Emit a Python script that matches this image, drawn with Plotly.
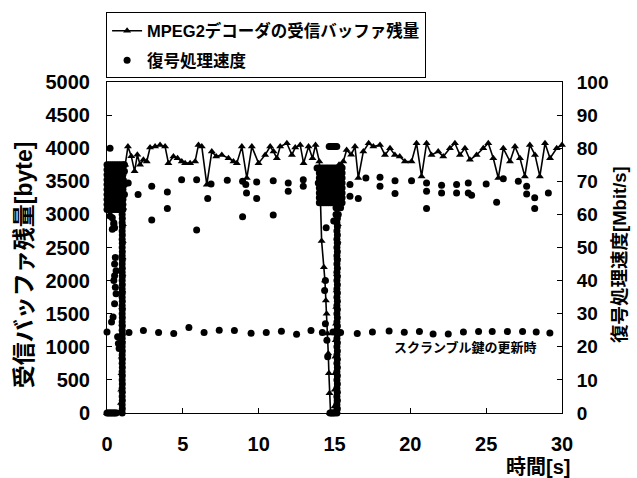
import plotly.graph_objects as go

# ---- Buffer remaining (left axis, byte) ----
buf_t = [0.0, 0.05, 0.1, 0.15, 0.2, 0.25, 0.3, 0.35, 0.4, 0.45, 0.5, 0.55, 0.6, 0.65, 0.7, 0.75, 0.8, 0.85, 0.9,
         0.92, 0.94, 0.96, 0.97, 0.98, 0.99, 1.0, 1.01, 1.02, 1.03, 1.04, 1.05, 1.06, 1.07, 1.08, 1.1,
         1.2, 1.38, 1.6, 1.82, 2.0, 2.18, 2.4, 2.62, 2.84, 3.17, 3.5, 3.83, 4.05, 4.38, 4.65, 4.93, 5.15, 5.48, 5.81,
         6.03, 6.25, 6.58, 6.91, 7.2, 7.57, 8.01, 8.34, 8.56, 8.89, 9.22, 9.55, 9.99, 10.43, 10.76, 10.98, 11.2,
         11.42, 11.86, 12.19, 12.41, 12.74, 12.96, 13.29, 13.55, 13.75, 14.0,
         14.15, 14.3, 14.37, 14.43, 14.48, 14.54, 14.59, 14.63, 14.67, 14.7,
         14.74, 14.78, 14.82, 14.86, 14.9, 14.94, 14.98,
         15.0, 15.02, 15.04, 15.06, 15.08, 15.1, 15.12, 15.14, 15.16, 15.18, 15.2, 15.22, 15.24, 15.26, 15.28, 15.3,
         15.45, 15.58, 15.8, 16.1, 16.35, 16.57, 16.9, 17.25, 17.56, 18.0, 18.33, 18.66, 18.98, 19.3, 19.64, 20.08,
         20.41, 20.74, 21.07, 21.4, 21.84, 22.17, 22.61, 22.94, 23.27, 23.6, 23.93, 24.37, 24.81, 25.14, 25.47,
         25.8, 26.13, 26.57, 26.9, 27.23, 27.55, 27.88, 28.22, 28.54, 28.88, 29.21, 29.65, 30.0]
buf_v = [0, 0, 0, 0, 0, 0, 0, 0, 0, 0, 0, 0, 0, 0, 0, 0, 0, 0, 0,
         150, 350, 600, 850, 1100, 1350, 1600, 1850, 2100, 2350, 2600, 2850, 3100, 3350, 3550, 3750,
         3750, 4024, 3880, 3650, 3900, 3749, 3824, 3799, 4009, 4024, 4049, 4024, 3774, 3874, 3849, 3799, 3774, 3774, 3799,
         4049, 4024, 3449, 3949, 3874, 3899, 3849, 3799, 3774, 4024, 3549, 4024, 3774, 3899, 4024, 3949, 3849,
         4024, 4074, 3899, 4009, 4049, 3774, 4024, 3849, 4049, 3800,
         2600, 2200, 2000, 1700, 1500, 1200, 900, 600, 300, 0,
         0, 0, 0, 0, 0, 0, 0,
         100, 350, 600, 850, 1100, 1350, 1600, 1850, 2100, 2350, 2600, 2850, 3100, 3350, 3550, 3750,
         3750, 3799, 3974, 3900, 4024, 3549, 3949, 4074, 4024, 4049, 3899, 3999, 3899, 3874, 3799, 3799,
         4074, 3574, 4074, 3899, 3949, 3874, 3999, 4074, 3899, 3999, 3824, 3899, 3999, 4074, 3849,
         3549, 3999, 3799, 4024, 3849, 3574, 4049, 3899, 3574, 4074, 3849, 3999, 4049]

# ---- Decoding speed (right axis, Mbit/s) ----
# start-up period (0 - 1.2 s): saturated cluster, ramp and scattered points
start_t = [
    0.0, 0.15, 0.3, 0.45, 0.6, 0.75, 0.9, 1.05,
    0.0, 0.15, 0.3, 0.45, 0.6, 0.75, 0.9, 1.05,
    0.0, 0.15, 0.3, 0.45, 0.6, 0.75, 0.9, 1.05,
    0.0, 0.15, 0.3, 0.45, 0.6, 0.75, 0.9, 1.05,
    0.0, 0.15, 0.3, 0.45, 0.6, 0.75, 0.9, 1.05,
    0.0, 0.15, 0.3, 0.45, 0.6, 0.75, 0.9, 1.05,
    0.0, 0.15, 0.3, 0.45, 0.6, 0.75, 0.9, 1.05,
    0.0, 0.15, 0.3, 0.45, 0.6, 0.75, 0.9, 1.05,
    0.0, 0.15, 0.3, 0.45, 0.6, 0.75, 0.9, 1.05,
    0.0, 0.15, 0.3, 0.45, 0.6, 0.75, 0.9, 1.05,
    1.15, 1.15, 1.15, 1.15,
    0.2, 0.35, 0.45, 0.5, 0.2,
    0.45, 0.35, 0.55, 0.5, 0.6, 0.5, 0.45, 0.55, 0.6, 0.5, 0.4, 0.3, 0.7, 0.75, 0.8,
    0.0, 0.1, 0.2, 0.3, 0.4, 0.5, 0.6,
    1.0, 1.01, 1.0, 1.01, 1.0, 1.01, 1.0, 1.01, 1.0, 1.01, 1.0, 1.01, 1.0, 1.01, 1.0, 1.01, 1.0,
    1.01, 1.0, 1.01, 1.0, 1.01, 1.0, 1.01, 1.0, 1.01, 1.0, 1.01, 1.0, 1.01, 1.0, 1.01, 1.0,
    1.01, 1.0, 1.01, 1.0, 1.01, 1.0, 1.01, 1.0, 1.01, 1.0, 1.01, 1.0, 1.01, 1.0, 1.01, 1.0,
]
start_v = [
    75, 75, 75, 75, 75, 75, 75, 75,
    73.5, 73.5, 73.5, 73.5, 73.5, 73.5, 73.5, 73.5,
    72, 72, 72, 72, 72, 72, 72, 72,
    70.5, 70.5, 70.5, 70.5, 70.5, 70.5, 70.5, 70.5,
    69, 69, 69, 69, 69, 69, 69, 69,
    67.5, 67.5, 67.5, 67.5, 67.5, 67.5, 67.5, 67.5,
    66, 66, 66, 66, 66, 66, 66, 66,
    64.5, 64.5, 64.5, 64.5, 64.5, 64.5, 64.5, 64.5,
    63, 63, 63, 63, 63, 63, 63, 63,
    61.5, 61.5, 61.5, 61.5, 61.5, 61.5, 61.5, 61.5,
    75, 73, 69, 66,
    80, 59, 57.5, 56, 59.5,
    57, 55.5, 47, 45, 43, 41.5, 40, 38, 36, 33, 29, 27.5, 23, 21, 19.5,
    0, 0, 0, 0, 0, 0, 0,
    0, 1.25, 2.5, 3.75, 5, 6.25, 7.5, 8.75, 10, 11.25, 12.5, 13.75, 15, 16.25, 17.5, 18.75, 20,
    21.25, 22.5, 23.75, 25, 26.25, 27.5, 28.75, 30, 31.25, 32.5, 33.75, 35, 36.25, 37.5, 38.75, 40,
    41.25, 42.5, 43.75, 45, 46.25, 47.5, 48.75, 50, 51.25, 52.5, 53.75, 55, 56.25, 57.5, 58.75, 60,
]
# scramble-key update period (about 14 - 15.5 s)
key_t = [
    14.0, 14.15, 14.3, 14.45, 14.6, 14.75, 14.9, 15.05, 15.2, 15.35, 15.5,
    14.0, 14.15, 14.3, 14.45, 14.6, 14.75, 14.9, 15.05, 15.2, 15.35, 15.5,
    14.0, 14.15, 14.3, 14.45, 14.6, 14.75, 14.9, 15.05, 15.2, 15.35, 15.5,
    14.0, 14.15, 14.3, 14.45, 14.6, 14.75, 14.9, 15.05, 15.2, 15.35, 15.5,
    14.0, 14.15, 14.3, 14.45, 14.6, 14.75, 14.9, 15.05, 15.2, 15.35, 15.5,
    14.0, 14.15, 14.3, 14.45, 14.6, 14.75, 14.9, 15.05, 15.2, 15.35, 15.5,
    14.0, 14.15, 14.3, 14.45, 14.6, 14.75, 14.9, 15.05, 15.2, 15.35, 15.5,
    14.0, 14.15, 14.3, 14.45, 14.6, 14.75, 14.9, 15.05, 15.2, 15.35, 15.5,
    13.85, 15.1, 15.25, 15.4, 15.1, 15.25,
    14.65, 14.75, 14.85, 14.95, 15.05, 15.15,
    14.45, 14.95, 14.4, 14.35, 14.4, 14.5, 14.55,
    14.7, 14.8, 14.9, 15.0,
    15.16, 15.19, 15.16, 15.19, 15.16, 15.19, 15.16, 15.19, 15.16, 15.19, 15.16, 15.19, 15.16, 15.19, 15.16, 15.19, 15.16,
    15.19, 15.16, 15.19, 15.16, 15.19, 15.16, 15.19, 15.16, 15.19, 15.16, 15.19, 15.16, 15.19, 15.16, 15.19, 15.16,
    15.19, 15.16, 15.19, 15.16, 15.19, 15.16, 15.19, 15.16, 15.19, 15.16, 15.19, 15.16, 15.19, 15.16, 15.19, 15.16,
]
key_v = [
    74, 74, 74, 74, 74, 74, 74, 74, 74, 74, 74,
    72.5, 72.5, 72.5, 72.5, 72.5, 72.5, 72.5, 72.5, 72.5, 72.5, 72.5,
    71, 71, 71, 71, 71, 71, 71, 71, 71, 71, 71,
    69.5, 69.5, 69.5, 69.5, 69.5, 69.5, 69.5, 69.5, 69.5, 69.5, 69.5,
    68, 68, 68, 68, 68, 68, 68, 68, 68, 68, 68,
    66.5, 66.5, 66.5, 66.5, 66.5, 66.5, 66.5, 66.5, 66.5, 66.5, 66.5,
    65, 65, 65, 65, 65, 65, 65, 65, 65, 65, 65,
    63.5, 63.5, 63.5, 63.5, 63.5, 63.5, 63.5, 63.5, 63.5, 63.5, 63.5,
    74, 62, 62, 62, 60, 60,
    80.5, 80.5, 80.5, 80.5, 80.5, 80.5,
    56, 58, 40, 37, 27, 22, 17,
    0, 0, 0, 0,
    0, 1.25, 2.5, 3.75, 5, 6.25, 7.5, 8.75, 10, 11.25, 12.5, 13.75, 15, 16.25, 17.5, 18.75, 20,
    21.25, 22.5, 23.75, 25, 26.25, 27.5, 28.75, 30, 31.25, 32.5, 33.75, 35, 36.25, 37.5, 38.75, 40,
    41.25, 42.5, 43.75, 45, 46.25, 47.5, 48.75, 50, 51.25, 52.5, 53.75, 55, 56.25, 57.5, 58.75, 60,
]
# steady-state decoding
steady_t = [
    1.4, 2.05, 2.95, 2.95, 3.98, 3.98, 4.92, 5.91, 5.91, 6.64, 6.86, 7.93, 8.94, 8.94, 9.15, 9.2, 9.87, 9.87,
    10.96, 10.96, 11.95, 11.95, 12.94, 12.94, 13.93,
    16.02, 16.02, 16.57, 17.07, 18.0, 18.0, 18.99, 18.99, 20.08, 21.07, 21.07, 21.07, 22.06, 22.06,
    23.05, 23.05, 23.82, 23.82, 24.04, 25.0, 25.69, 26.13, 27.12, 27.67, 27.67, 28.2, 28.2, 29.1,
]
steady_v = [
    69.5, 66.0, 68.5, 58.3, 66.8, 61.8, 70.5, 70.5, 55.3, 64.8, 69.2, 70.3, 70.0, 59.3, 69.0, 66.5, 69.8, 64.8,
    70.2, 59.8, 69.5, 67.0, 70.5, 68.5, 69.5,
    69.0, 65.5, 64.8, 71.0, 71.2, 68.5, 70.2, 66.3, 70.2, 69.5, 67.0, 61.8, 68.8, 66.5,
    69.0, 66.5, 69.5, 66.5, 65.8, 69.2, 63.7, 70.8, 70.0, 68.5, 66.2, 65.0, 61.8, 66.5,
]
# periodic scramble-key update points (about 24 Mbit/s)
update_t = [0.0, 1.45, 2.4, 3.4, 4.4, 5.4, 6.4, 7.4, 8.4, 9.5, 10.5, 11.5, 12.5, 13.45, 14.2, 14.9, 15.4,
            16.5, 17.5, 18.6, 19.6, 20.6, 21.5, 22.5, 23.5, 24.5, 25.4, 26.4, 27.4, 28.3, 29.2]
update_v = [24.5, 24.3, 24.9, 24.3, 24.0, 25.8, 24.3, 25.0, 24.9, 24.1, 24.3, 24.7, 23.8, 24.9, 24.3, 24.5, 24.3,
            24.0, 24.5, 24.8, 24.4, 24.6, 23.9, 23.9, 24.5, 24.6, 24.6, 24.6, 24.6, 24.5, 24.2]

spd_t = start_t + key_t + steady_t + update_t
spd_v = start_v + key_v + steady_v + update_v

x_ticks = [0, 5, 10, 15, 20, 25, 30]
left_ticks = [0, 500, 1000, 1500, 2000, 2500, 3000, 3500, 4000, 4500, 5000]
right_ticks = [0, 10, 20, 30, 40, 50, 60, 70, 80, 90, 100]

LAT = "Liberation Sans, Arial, sans-serif"
CJK = "Liberation Sans, Noto Sans CJK JP, sans-serif"

fig = go.Figure()
fig.add_trace(go.Scatter(
    x=buf_t, y=buf_v, mode="lines+markers", name="MPEG2デコーダの受信バッファ残量",
    line=dict(color="black", width=1.6),
    marker=dict(symbol="triangle-up", size=7, color="black"),
    cliponaxis=False, yaxis="y", legendgroup="a"))
fig.add_trace(go.Scatter(
    x=spd_t, y=spd_v, mode="markers", name="復号処理速度",
    marker=dict(symbol="circle", size=7, color="black"),
    cliponaxis=False, yaxis="y2", legendgroup="b"))

tickfont = dict(family=LAT, size=20, color="black", weight="bold")

fig.update_layout(
    width=637, height=478,
    margin=dict(l=107, r=75, t=80, b=65),
    paper_bgcolor="white", plot_bgcolor="white",
    showlegend=True,
    legend=dict(x=-0.002, y=1.21, xanchor="left", yanchor="top",
                bgcolor="white", bordercolor="black", borderwidth=1,
                font=dict(family=CJK, size=16.5, color="black", weight="bold"),
                traceorder="grouped", tracegroupgap=5),
    xaxis=dict(range=[0, 30], tickvals=x_ticks, ticks="inside", ticklen=5, tickcolor="black",
               showline=True, linecolor="black", linewidth=1, mirror=True,
               showgrid=False, zeroline=False, tickfont=tickfont, ticklabelstandoff=13),
    yaxis=dict(range=[0, 5000], tickvals=left_ticks, ticks="inside", ticklen=5, tickcolor="black",
               showline=True, linecolor="black", linewidth=1,
               showgrid=False, zeroline=False, tickfont=tickfont, ticklabelstandoff=12),
    yaxis2=dict(range=[0, 100], tickvals=right_ticks, overlaying="y", side="right",
                ticks="inside", ticklen=5, tickcolor="black",
                showline=True, linecolor="black", linewidth=1,
                showgrid=False, zeroline=False,
                tickfont=dict(family=LAT, size=19, color="black", weight="bold"),
                ticklabelstandoff=10),
    annotations=[
        dict(text="受信バッファ残量[byte]", xref="paper", yref="paper", x=-0.182, y=0.447,
             xanchor="center", yanchor="middle", textangle=-90, showarrow=False,
             font=dict(family=CJK, size=23, color="black", weight="bold")),
        dict(text="復号処理速度[Mbit/s]", xref="paper", yref="paper", x=1.125, y=0.48,
             xanchor="center", yanchor="middle", textangle=-90, showarrow=False,
             font=dict(family=CJK, size=18.5, color="black", weight="bold")),
        dict(text="時間[s]", xref="paper", yref="paper", x=0.947, y=-0.162,
             xanchor="center", yanchor="middle", showarrow=False,
             font=dict(family=CJK, size=20, color="black", weight="bold")),
        dict(text="スクランブル鍵の更新時", xref="x", yref="y", x=18.8, y=991,
             xanchor="left", yanchor="middle", showarrow=False,
             font=dict(family=CJK, size=13, color="black", weight="bold")),
    ],
)

fig.write_html("out.html", config={"displayModeBar": False},
               post_script="document.body.style.margin='0px';")
